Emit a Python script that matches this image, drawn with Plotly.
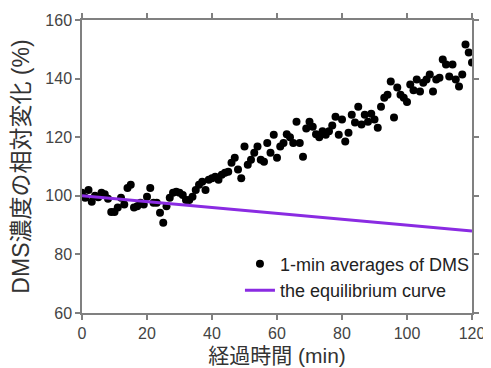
import plotly.graph_objects as go

# Data: minutes and DMS relative concentration (%)
minutes = list(range(0, 121))
dms_pct = [
    101, 99.3, 102, 98, 100, 99.5, 101, 100.5, 99, 94.5,
    94.5, 96, 99.3, 97, 102.7, 103.8, 96, 96.4, 97.6, 97,
    99.7, 102.7, 97.6, 97.6, 94.2, 90.8, 96.4, 99.3, 101, 101.4,
    101, 100.3, 98.6, 98.6, 99.7, 102, 103.8, 104.8, 102, 105.5,
    106, 106.5, 105.5, 107.2, 107.9, 108.2, 111.3, 113, 109, 106,
    116.8, 110.6, 112.3, 114.7, 116.8, 112.3, 111.6, 118, 114.7, 120.8,
    113, 116.8, 118, 121, 120, 118, 125.3, 118, 113.3, 123,
    125.3, 123.6, 121, 120, 122, 120.8, 122, 124, 127, 120.8,
    126, 118.5, 121.5, 127.7, 125, 130.4, 124.3, 127.7, 125.3, 128,
    126, 123.2, 130.4, 133.5, 134.5, 139, 126.7, 137, 134.5, 133.5,
    132, 138, 136, 139.7, 135.6, 138.6, 139.7, 141.4, 135.6, 139.7,
    140.3, 146.5, 144.8, 140.7, 144.8, 139.7, 137.3, 141.4, 151.6, 148.9,
    145.5,
]
eq_minutes = [0, 120]
eq_pct = [100, 88]

x_ticks = [0, 20, 40, 60, 80, 100, 120]
y_ticks = [60, 80, 100, 120, 140, 160]

fig = go.Figure()
fig.add_trace(go.Scatter(
    x=minutes, y=dms_pct, mode="markers",
    marker=dict(color="black", size=8),
    name="1-min averages of DMS",
))
fig.add_trace(go.Scatter(
    x=eq_minutes, y=eq_pct, mode="lines",
    line=dict(color="#8a2be2", width=3),
    name="the equilibrium curve",
))

axis_common = dict(
    showline=True, linecolor="#808080", linewidth=1.5, mirror="ticks",
    ticks="outside", ticklen=5, tickcolor="#808080", tickwidth=1.5,
    showgrid=False, zeroline=False, automargin=False,
    tickfont=dict(family="Liberation Sans, Arial, sans-serif", size=16, color="#444444"),
)

fig.update_layout(
    width=483, height=360,
    margin=dict(l=74, r=19, t=12, b=55, autoexpand=False),
    paper_bgcolor="white", plot_bgcolor="white",
    font=dict(family="Liberation Sans, Noto Sans CJK JP, sans-serif", color="#333333"),
    xaxis=dict(
        range=[0, 120], tickvals=x_ticks,
        title=dict(text="経過時間 (min)", standoff=7,
                   font=dict(family="Liberation Sans, Noto Sans CJK JP", size=21, color="#333333")),
        **axis_common,
    ),
    yaxis=dict(
        range=[60, 160], tickvals=y_ticks,
        title=dict(text="DMS濃度の相対変化 (%)", standoff=12,
                   font=dict(family="Liberation Sans, Noto Sans CJK JP", size=23, color="#333333")),
        **axis_common,
    ),
    legend=dict(
        x=0.405, y=0.23, xanchor="left", yanchor="top",
        bgcolor="rgba(0,0,0,0)",
        font=dict(family="Liberation Sans, Arial, sans-serif", size=18, color="#222222"),
        itemwidth=30, tracegroupgap=0,
    ),
)

fig.write_html("out.html")
